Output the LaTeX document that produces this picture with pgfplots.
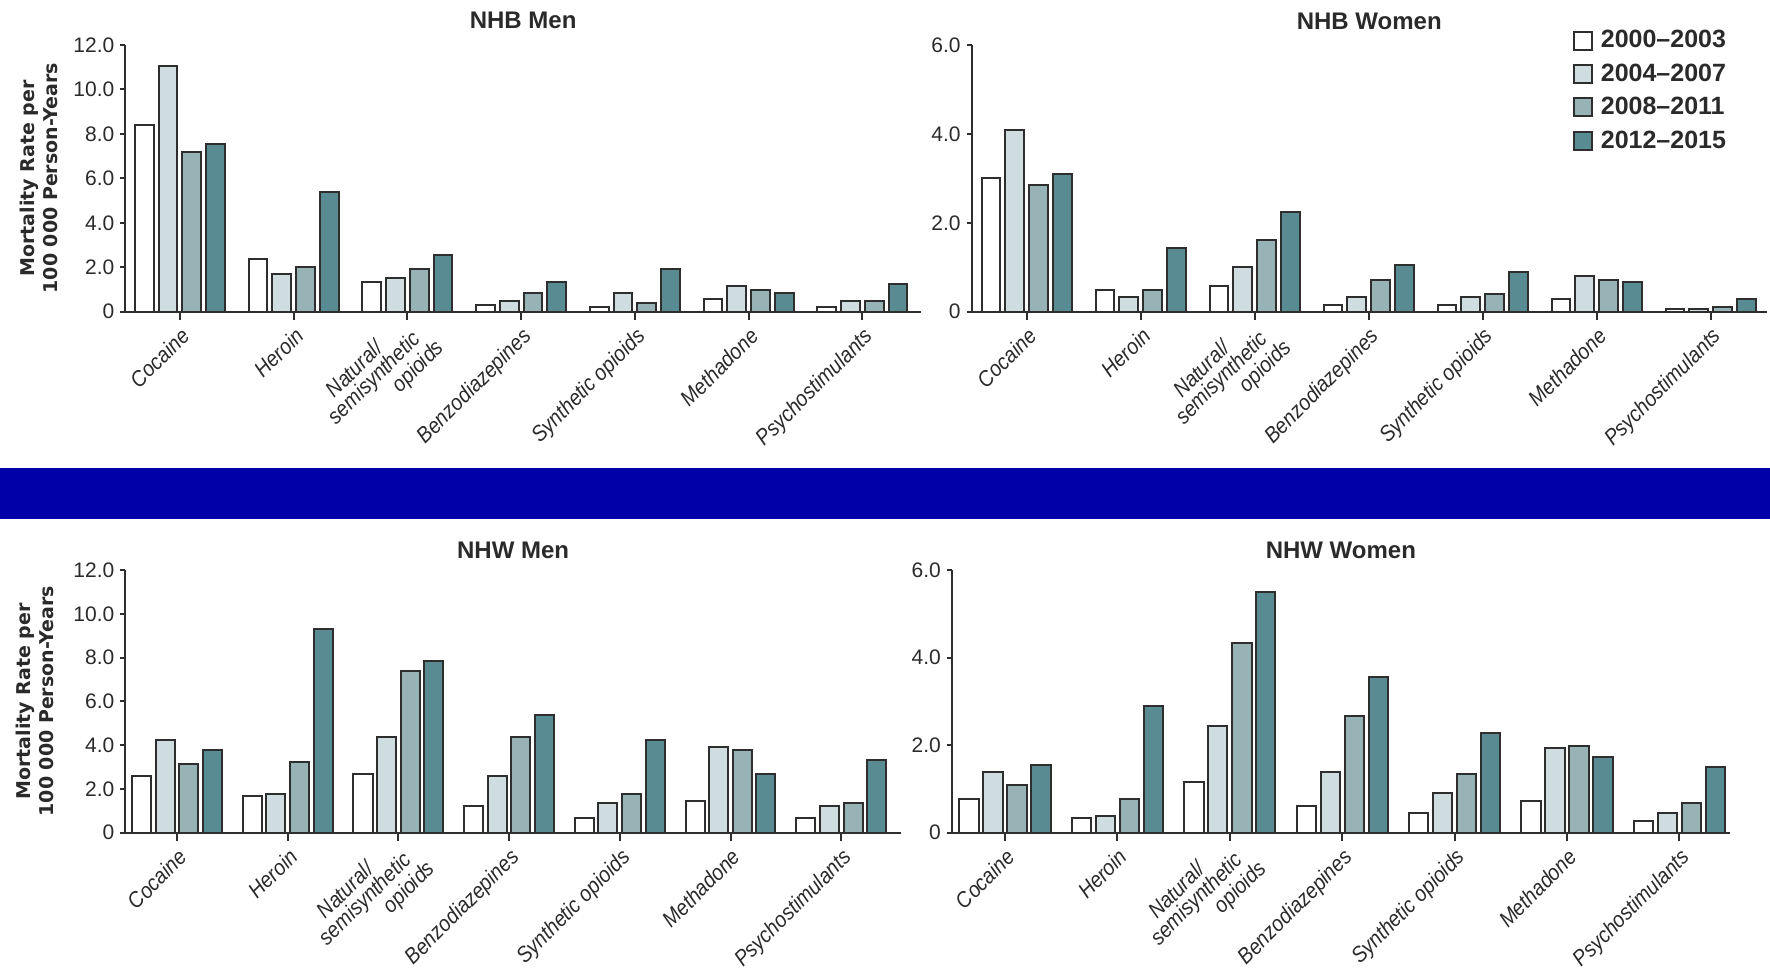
\documentclass[border=0pt]{standalone}
\usepackage{pgfplots}
\pgfplotsset{compat=1.18}
\usepackage{pgfplotstable}
\usepackage{fontspec}
\setmainfont{Liberation Sans}
\newfontfamily\catfont[FakeStretch=0.9]{Liberation Sans}
\newfontfamily\dejavu{DejaVu Sans}

\definecolor{cA}{HTML}{FFFFFF}
\definecolor{cB}{HTML}{CFDDE1}
\definecolor{cC}{HTML}{97B3B6}
\definecolor{cD}{HTML}{598B92}
\definecolor{edge}{HTML}{2E2E2E}
\definecolor{band}{HTML}{0000A8}
\definecolor{txt}{HTML}{2A2A2A}

% columns: x = category index, a = 2000-2003, b = 2004-2007, c = 2008-2011, d = 2012-2015
\pgfplotstableread{
x a b c d
0 8.42 11.06 7.17 7.56
1 2.37 1.70 2.00 5.37
2 1.33 1.53 1.90 2.55
3 0.30 0.48 0.85 1.32
4 0.20 0.85 0.40 1.90
5 0.57 1.14 0.96 0.86
6 0.20 0.48 0.48 1.25
}\nhbmen
\pgfplotstableread{
x a b c d
0 3.00 4.08 2.85 3.09
1 0.48 0.34 0.48 1.43
2 0.58 1.00 1.62 2.24
3 0.15 0.34 0.72 1.05
4 0.15 0.34 0.39 0.89
5 0.29 0.80 0.71 0.66
6 0.05 0.05 0.10 0.29
}\nhbwomen
\pgfplotstableread{
x a b c d
0 2.57 4.25 3.12 3.80
1 1.68 1.78 3.25 9.30
2 2.70 4.36 7.38 7.83
3 1.24 2.57 4.36 5.37
4 0.67 1.35 1.78 4.25
5 1.45 3.90 3.80 2.70
6 0.67 1.22 1.34 3.32
}\nhwmen
\pgfplotstableread{
x a b c d
0 0.78 1.39 1.10 1.54
1 0.34 0.39 0.78 2.89
2 1.16 2.44 4.33 5.50
3 0.62 1.39 2.67 3.56
4 0.44 0.90 1.33 2.28
5 0.72 1.94 1.98 1.72
6 0.27 0.44 0.67 1.50
}\nhwwomen

\pgfplotsset{
  common/.style={
    scale only axis,
    anchor=south west,
    axis lines*=left,
    axis line style={draw=edge, line width=1pt},
    tick align=outside,
    xtick={0,...,6},
    xticklabels={Cocaine,Heroin,{\hspace*{8.7pt}\smash{Natural/}\\semisynthetic\hspace*{-6pt}\\\hspace*{33.8pt}opioids\hspace*{-11.3pt}},Benzodiazepines,Synthetic opioids,Methadone,Psychostimulants},
    xticklabel style={rotate=45, anchor=north east, align=left, inner sep=2pt, font=\catfont\itshape\fontsize{11}{10}\selectfont, text=txt},
    yticklabel style={inner sep=1pt, font=\fontsize{10.5}{12}\selectfont, text=txt},
    xtick style={draw=edge, line width=1pt, /pgfplots/major tick length=4pt},
    ytick style={draw=edge, line width=1pt, /pgfplots/major tick length=2.5pt},
    title style={font=\bfseries\fontsize{12}{14}\selectfont, text=txt, at={(axis description cs:0.5,1)}, anchor=base},
    ylabel style={at={(axis description cs:-0.108,0.5)}, anchor=center, align=center, font=\dejavu\bfseries\fontsize{9.5}{11.5}\selectfont, text=txt},
    ymin=0,
    clip=false,
  },
  bartop/.style={ybar, bar width=0.165, draw=edge, line width=1pt},
  barbot/.style={ybar, bar width=0.172, draw=edge, line width=1pt},
  boxlegend/.style={legend image code/.code={\draw[##1] (0pt,-4.5pt) rectangle (9pt,4.5pt);}},
}

\begin{document}
\begin{tikzpicture}
\useasboundingbox (0,0) rectangle (885pt,485pt);
\fill[band] (0,225.35pt) rectangle (885pt,251pt);

% NHB Men
\begin{axis}[common,
  at={(62.65pt,329.15pt)}, width=397.85pt, height=133.35pt,
  xmin=-0.480, xmax=6.515, ymax=12,
  ytick={0,2,4,6,8,10,12}, yticklabels={0,2.0,4.0,6.0,8.0,10.0,12.0},
  title={NHB Men}, title style={yshift=2pt},
  ylabel={Mortality Rate per\\100 000 Person-Years}]
\addplot[bartop, bar shift=-0.313, fill=cA] table[x=x,y=a]{\nhbmen};
\addplot[bartop, bar shift=-0.104, fill=cB] table[x=x,y=b]{\nhbmen};
\addplot[bartop, bar shift=0.104, fill=cC] table[x=x,y=c]{\nhbmen};
\addplot[bartop, bar shift=0.313, fill=cD] table[x=x,y=d]{\nhbmen};
\end{axis}

% NHB Women
\begin{axis}[common,
  at={(485.75pt,329.15pt)}, width=397.75pt, height=133.35pt,
  xmin=-0.484, xmax=6.494, ymax=6,
  ytick={0,2,4,6}, yticklabels={0,2.0,4.0,6.0},
  title={NHB Women}, title style={yshift=2pt},
  legend style={at={(axis description cs:0.959,1.079)}, anchor=north east, draw=none, fill=none,
    font=\bfseries\fontsize{12.5}{13}\selectfont, text=txt, nodes={inner sep=1pt}, row sep=4.5pt, column sep=3pt},
  legend cell align=left]
\addplot[bartop, bar shift=-0.313, fill=cA, boxlegend] table[x=x,y=a]{\nhbwomen};
\addlegendentry{2000\textendash 2003}
\addplot[bartop, bar shift=-0.104, fill=cB, boxlegend] table[x=x,y=b]{\nhbwomen};
\addlegendentry{2004\textendash 2007}
\addplot[bartop, bar shift=0.104, fill=cC, boxlegend] table[x=x,y=c]{\nhbwomen};
\addlegendentry{2008\textendash 2011}
\addplot[bartop, bar shift=0.313, fill=cD, boxlegend] table[x=x,y=d]{\nhbwomen};
\addlegendentry{2012\textendash 2015}
\end{axis}

% NHW Men
\begin{axis}[common,
  at={(62.65pt,68.65pt)}, width=387.85pt, height=131.35pt,
  xmin=-0.467, xmax=6.54, ymax=12,
  ytick={0,2,4,6,8,10,12}, yticklabels={0,2.0,4.0,6.0,8.0,10.0,12.0},
  title={NHW Men}, title style={yshift=0pt},
  ylabel={Mortality Rate per\\100 000 Person-Years},
  ylabel style={at={(axis description cs:-0.116,0.5)}}]
\addplot[barbot, bar shift=-0.32, fill=cA] table[x=x,y=a]{\nhwmen};
\addplot[barbot, bar shift=-0.107, fill=cB] table[x=x,y=b]{\nhwmen};
\addplot[barbot, bar shift=0.107, fill=cC] table[x=x,y=c]{\nhwmen};
\addplot[barbot, bar shift=0.32, fill=cD] table[x=x,y=d]{\nhwmen};
\end{axis}

% NHW Women
\begin{axis}[common,
  at={(475.85pt,68.65pt)}, width=389.15pt, height=131.35pt,
  xmin=-0.474, xmax=6.45, ymax=6,
  ytick={0,2,4,6}, yticklabels={0,2.0,4.0,6.0},
  title={NHW Women}, title style={yshift=0pt}]
\addplot[barbot, bar shift=-0.32, fill=cA] table[x=x,y=a]{\nhwwomen};
\addplot[barbot, bar shift=-0.107, fill=cB] table[x=x,y=b]{\nhwwomen};
\addplot[barbot, bar shift=0.107, fill=cC] table[x=x,y=c]{\nhwwomen};
\addplot[barbot, bar shift=0.32, fill=cD] table[x=x,y=d]{\nhwwomen};
\end{axis}
\end{tikzpicture}
\end{document}
